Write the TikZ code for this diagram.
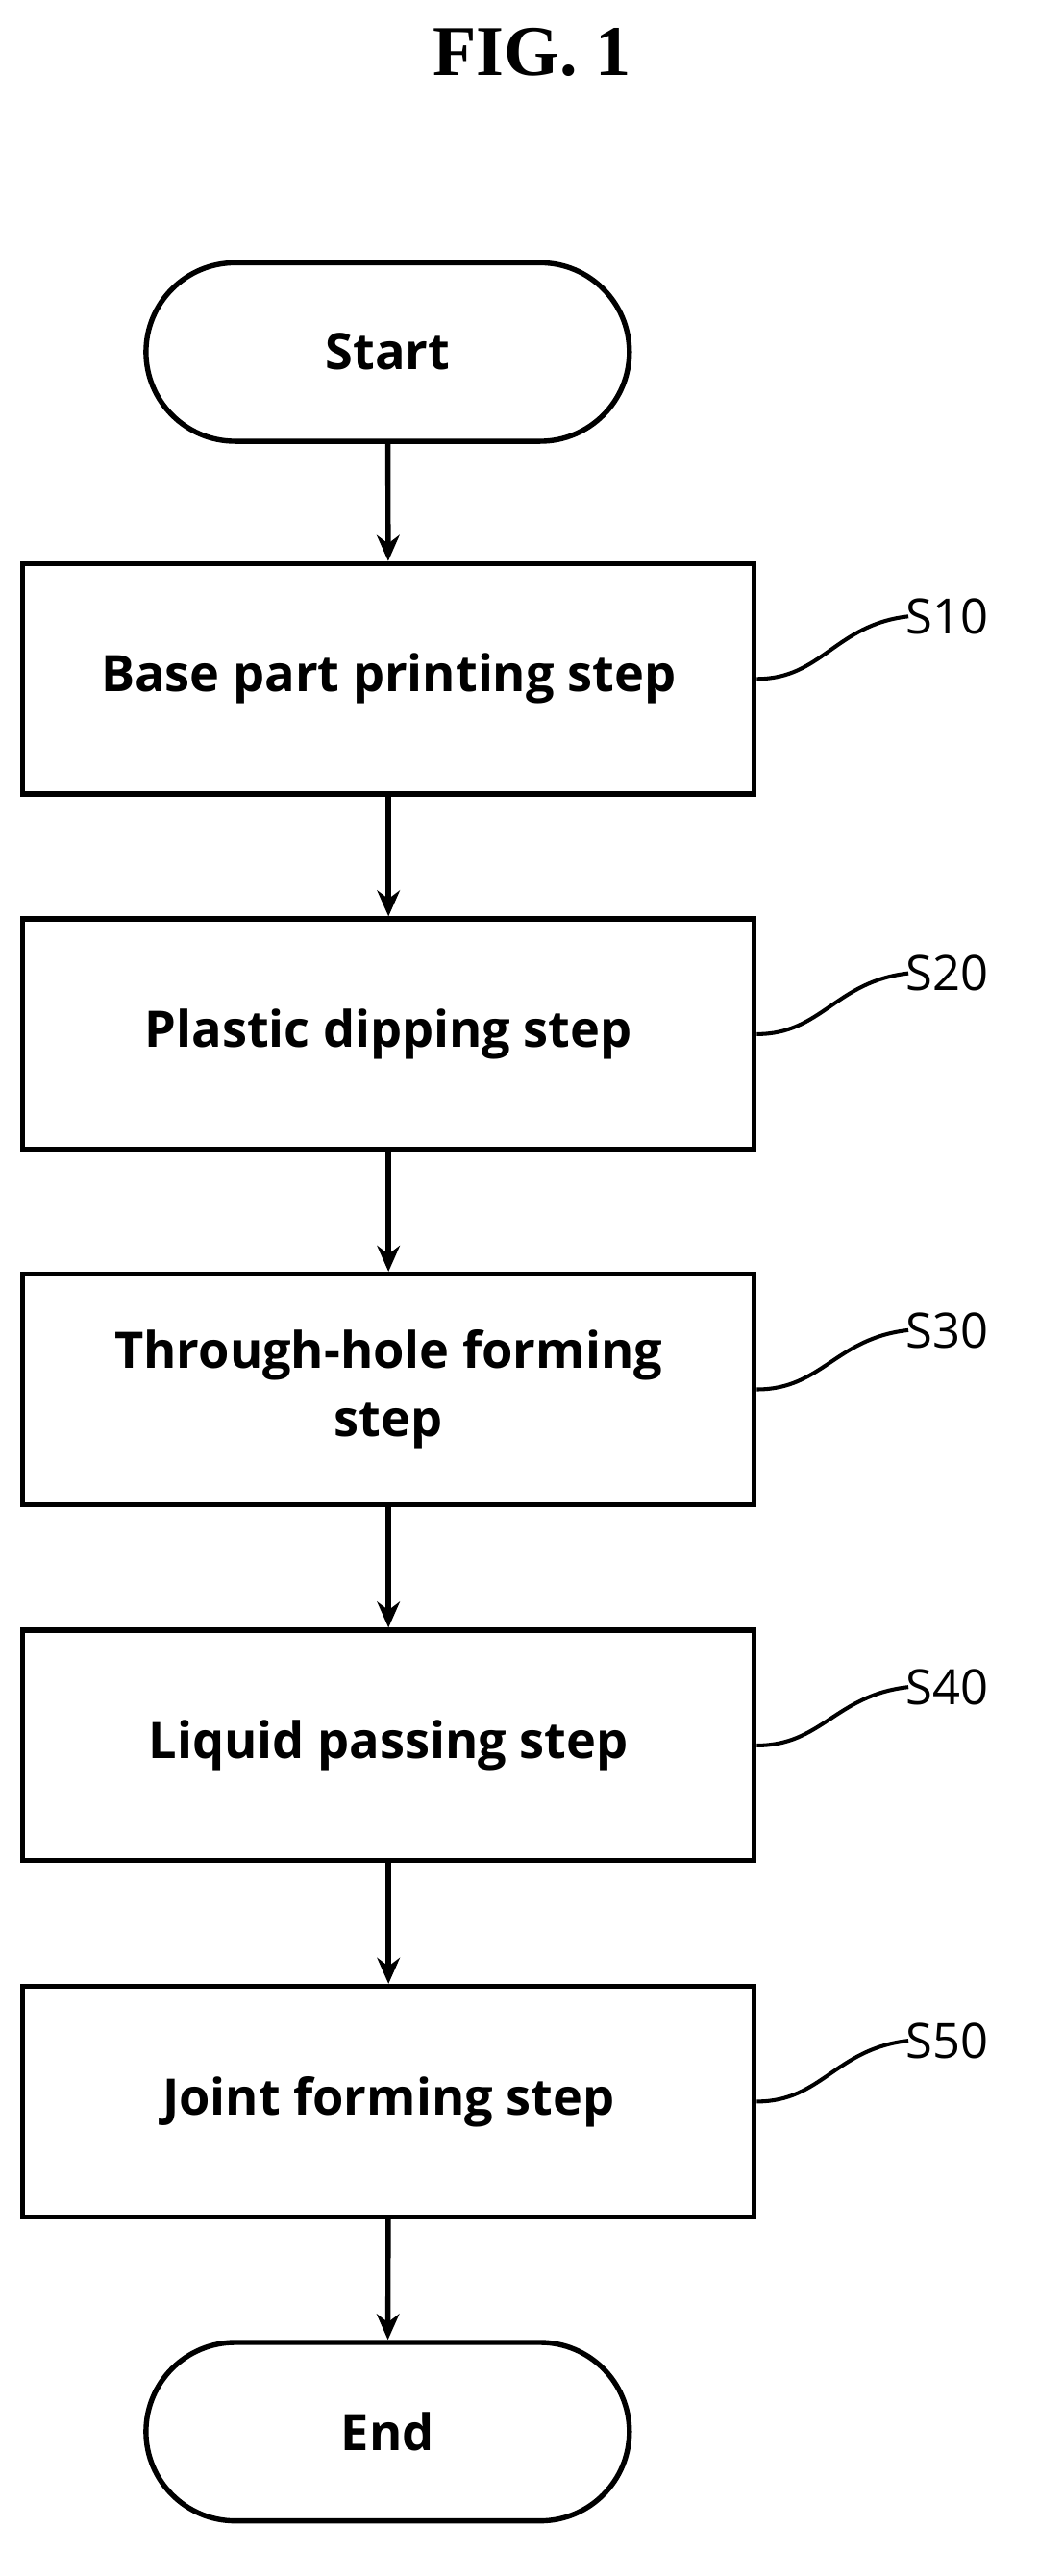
\documentclass[tikz,border=0pt]{standalone}
\usepackage{fontspec}
\setmainfont{Liberation Serif}
\newfontfamily\boxfont{Open Sans}[BoldFont={* Bold}]
\usetikzlibrary{arrows.meta}
\begin{document}
\begin{tikzpicture}[x=1pt,y=-1pt,
  box/.style={draw,line width=3.2pt,minimum width=451pt,minimum height=142pt,align=center,font=\boxfont\bfseries\fontsize{31}{42}\selectfont},
  term/.style={draw,line width=3.2pt,rounded corners=55pt,minimum width=298pt,minimum height=110pt,font=\boxfont\bfseries\fontsize{31}{42}\selectfont},
  arr/.style={line width=3.2pt,-{Stealth[length=16pt,width=14pt]}},
  lead/.style={line width=2.4pt},
  lab/.style={font=\boxfont\fontsize{30}{34}\selectfont,anchor=west}]
\useasboundingbox (0,0) rectangle (640,1588);
\node[font=\bfseries\fontsize{44}{50}\selectfont] (title) at (328,32) {FIG. 1};
\node[term] (start) at (239,217) {Start};
\node[box] (s10) at (239.5,418.5) {Base part printing step};
\node[box] (s20) at (239.5,637.5) {Plastic dipping step};
\node[box] (s30) at (239.5,856.5) {Through-hole forming\\step};
\node[box] (s40) at (239.5,1076) {Liquid passing step};
\node[box] (s50) at (239.5,1295.5) {Joint forming step};
\node[term] (end) at (239,1499) {End};
\draw[arr] (start) -- (s10);
\draw[arr] (s10) -- (s20);
\draw[arr] (s20) -- (s30);
\draw[arr] (s30) -- (s40);
\draw[arr] (s40) -- (s50);
\draw[arr] (s50) -- (end);
\foreach \n/\t/\y in {s10/S10/380,s20/S20/600,s30/S30/820,s40/S40/1040,s50/S50/1258}{
  \coordinate (c\n) at (560,\y);
  \node[lab] (l\n) at (555,\y) {\t};
  \draw[lead] (\n.east) .. controls +(40,0) and +(-45,5) .. (c\n);
}
\end{tikzpicture}
\end{document}
